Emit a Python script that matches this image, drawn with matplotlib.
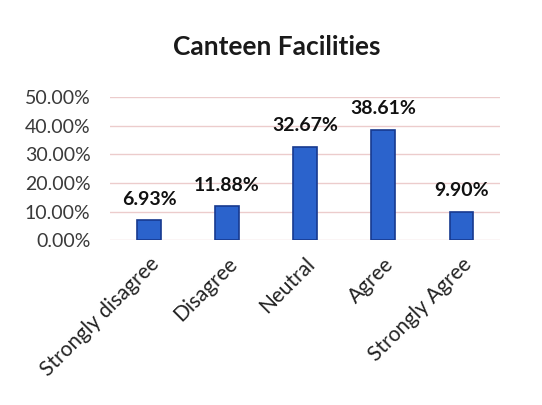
import matplotlib.pyplot as plt
from matplotlib.ticker import FuncFormatter

categories = ['Strongly disagree', 'Disagree', 'Neutral', 'Agree', 'Strongly Agree']
shares = [0.0693, 0.1188, 0.3267, 0.3861, 0.0990]
yticks = [0.0, 0.1, 0.2, 0.3, 0.4, 0.5]

plt.rcParams['font.family'] = ['Lato', 'DejaVu Sans']

fig = plt.figure(figsize=(5.42, 4.05), dpi=100)
ax = fig.add_axes([0.203, 0.407, 0.72, 0.353])

x = range(len(categories))
bars = ax.bar(x, shares, width=0.3, color='#2b63cc', edgecolor='#17398f', linewidth=1.2, zorder=3)

for bar, val in zip(bars, shares):
    ax.annotate(f'{val*100:.2f}%', (bar.get_x() + bar.get_width()/2, val),
                xytext=(0, 9), textcoords='offset points', ha='center', va='bottom',
                fontsize=14, fontweight='bold', color='#111111')

ax.set_xlim(-0.5, len(categories) - 0.5)
ax.set_ylim(0, 0.5)
ax.set_yticks(yticks)
ax.yaxis.set_major_formatter(FuncFormatter(lambda v, p: f'{v*100:.2f}%'))
ax.grid(axis='y', color='#eccccc', linewidth=1.0, zorder=0)
for s in ax.spines.values():
    s.set_visible(False)
ax.tick_params(axis='y', length=0, pad=14, labelsize=14, labelcolor='#3a3a3a')
ax.tick_params(axis='x', length=0, pad=10)
ax.set_xticks(list(x))
ax.set_xticklabels(categories, rotation=45, ha='right', rotation_mode='anchor',
                   fontsize=15, color='#222222')

fig.text(0.51, 0.885, 'Canteen Facilities', ha='center', va='center',
         fontsize=19, fontweight='bold', color='#1a1a1a')

fig.savefig('out.png', dpi=100)
